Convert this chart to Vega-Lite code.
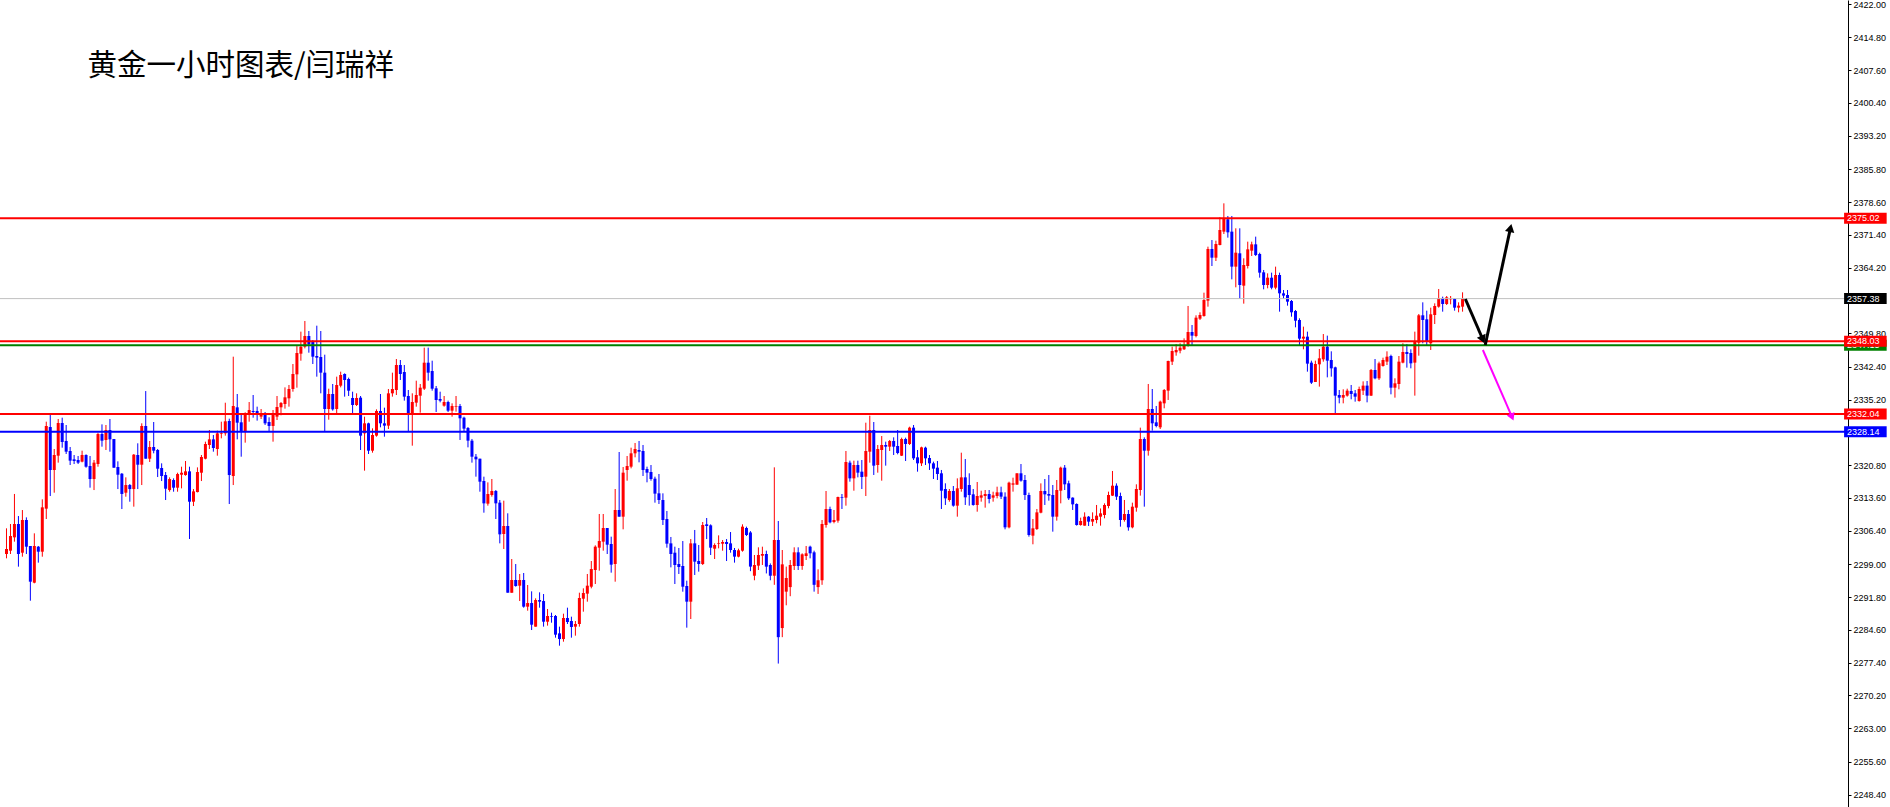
{
"$schema":"https://vega.github.io/schema/vega-lite/v6.json",
"width":1848,"height":807,
"autosize":{"type":"none"},
"padding":{"left":0,"top":0,"right":42,"bottom":0},
"background":"#ffffff",
"config":{"view":{"stroke":null}},
"datasets":{
"candles":[
{"i":0,"o":2301.27,"h":2306.91,"l":2300.32,"c":2302.37},
{"i":1,"o":2302.00,"h":2307.86,"l":2301.27,"c":2305.22},
{"i":2,"o":2304.93,"h":2314.46,"l":2303.98,"c":2307.86},
{"i":3,"o":2307.86,"h":2309.61,"l":2298.49,"c":2301.27},
{"i":4,"o":2301.56,"h":2310.93,"l":2300.68,"c":2308.74},
{"i":5,"o":2308.74,"h":2309.32,"l":2301.27,"c":2302.88},
{"i":6,"o":2303.03,"h":2303.03,"l":2291.01,"c":2295.19},
{"i":7,"o":2294.97,"h":2305.81,"l":2294.83,"c":2303.03},
{"i":8,"o":2302.88,"h":2303.03,"l":2299.37,"c":2301.78},
{"i":9,"o":2301.78,"h":2313.28,"l":2300.68,"c":2311.52},
{"i":10,"o":2311.23,"h":2330.34,"l":2308.96,"c":2329.39},
{"i":11,"o":2329.17,"h":2331.80,"l":2314.01,"c":2319.72},
{"i":12,"o":2319.72,"h":2324.34,"l":2314.74,"c":2323.02},
{"i":13,"o":2322.87,"h":2330.93,"l":2321.34,"c":2330.05},
{"i":14,"o":2330.05,"h":2331.22,"l":2324.63,"c":2325.88},
{"i":15,"o":2326.10,"h":2329.61,"l":2323.24,"c":2323.75},
{"i":16,"o":2323.90,"h":2324.78,"l":2320.82,"c":2321.78},
{"i":17,"o":2322.07,"h":2323.02,"l":2321.04,"c":2321.70},
{"i":18,"o":2321.92,"h":2322.80,"l":2321.04,"c":2321.34},
{"i":19,"o":2321.56,"h":2323.97,"l":2321.41,"c":2323.02},
{"i":20,"o":2323.02,"h":2323.17,"l":2320.23,"c":2320.45},
{"i":21,"o":2320.60,"h":2322.80,"l":2315.84,"c":2317.74},
{"i":22,"o":2317.74,"h":2321.92,"l":2315.32,"c":2321.34},
{"i":23,"o":2321.04,"h":2327.92,"l":2320.45,"c":2327.63},
{"i":24,"o":2327.63,"h":2329.75,"l":2324.85,"c":2326.17},
{"i":25,"o":2326.32,"h":2329.61,"l":2324.12,"c":2328.51},
{"i":26,"o":2328.51,"h":2330.93,"l":2323.75,"c":2326.46},
{"i":27,"o":2326.54,"h":2326.54,"l":2320.23,"c":2320.23},
{"i":28,"o":2320.38,"h":2321.63,"l":2315.54,"c":2318.69},
{"i":29,"o":2318.91,"h":2319.06,"l":2311.15,"c":2314.46},
{"i":30,"o":2314.74,"h":2318.11,"l":2313.86,"c":2316.42},
{"i":31,"o":2316.42,"h":2316.64,"l":2312.76,"c":2315.54},
{"i":32,"o":2315.54,"h":2323.24,"l":2311.67,"c":2323.09},
{"i":33,"o":2323.02,"h":2325.59,"l":2315.54,"c":2320.89},
{"i":34,"o":2320.89,"h":2329.98,"l":2316.42,"c":2329.39},
{"i":35,"o":2329.39,"h":2337.07,"l":2322.21,"c":2322.21},
{"i":36,"o":2322.21,"h":2326.10,"l":2321.48,"c":2324.78},
{"i":37,"o":2324.78,"h":2330.27,"l":2323.39,"c":2323.97},
{"i":38,"o":2324.12,"h":2324.34,"l":2318.18,"c":2320.01},
{"i":39,"o":2320.16,"h":2321.19,"l":2317.30,"c":2318.40},
{"i":40,"o":2318.62,"h":2319.28,"l":2313.13,"c":2315.62},
{"i":41,"o":2315.32,"h":2318.11,"l":2314.96,"c":2317.74},
{"i":42,"o":2317.52,"h":2317.89,"l":2314.96,"c":2315.84},
{"i":43,"o":2315.84,"h":2319.13,"l":2314.96,"c":2318.84},
{"i":44,"o":2318.69,"h":2320.45,"l":2315.69,"c":2319.13},
{"i":45,"o":2318.62,"h":2321.70,"l":2318.47,"c":2319.43},
{"i":46,"o":2319.43,"h":2320.45,"l":2304.57,"c":2312.76},
{"i":47,"o":2312.76,"h":2315.54,"l":2311.81,"c":2315.03},
{"i":48,"o":2314.88,"h":2320.30,"l":2314.81,"c":2319.28},
{"i":49,"o":2319.13,"h":2323.02,"l":2317.30,"c":2322.58},
{"i":50,"o":2322.21,"h":2325.95,"l":2322.07,"c":2325.44},
{"i":51,"o":2325.22,"h":2328.51,"l":2324.34,"c":2326.46},
{"i":52,"o":2326.46,"h":2327.41,"l":2323.75,"c":2324.56},
{"i":53,"o":2324.34,"h":2328.37,"l":2322.87,"c":2327.78},
{"i":54,"o":2327.63,"h":2330.34,"l":2326.68,"c":2327.78},
{"i":55,"o":2327.78,"h":2334.51,"l":2327.27,"c":2330.42},
{"i":56,"o":2330.49,"h":2331.00,"l":2312.25,"c":2318.62},
{"i":57,"o":2318.40,"h":2344.62,"l":2316.42,"c":2333.78},
{"i":58,"o":2333.49,"h":2336.42,"l":2326.46,"c":2330.12},
{"i":59,"o":2330.20,"h":2332.17,"l":2322.65,"c":2328.15},
{"i":60,"o":2328.15,"h":2332.39,"l":2325.73,"c":2331.95},
{"i":61,"o":2331.95,"h":2334.66,"l":2330.34,"c":2332.90},
{"i":62,"o":2332.68,"h":2336.20,"l":2331.22,"c":2332.46},
{"i":63,"o":2332.69,"h":2333.64,"l":2330.57,"c":2331.96},
{"i":64,"o":2331.45,"h":2333.13,"l":2330.93,"c":2332.18},
{"i":65,"o":2332.18,"h":2332.47,"l":2329.62,"c":2329.98},
{"i":66,"o":2330.27,"h":2331.30,"l":2328.30,"c":2329.40},
{"i":67,"o":2329.40,"h":2332.91,"l":2325.95,"c":2331.81},
{"i":68,"o":2331.45,"h":2335.98,"l":2330.71,"c":2333.57},
{"i":69,"o":2333.50,"h":2334.66,"l":2331.74,"c":2334.44},
{"i":70,"o":2334.23,"h":2337.88,"l":2333.20,"c":2335.69},
{"i":71,"o":2335.47,"h":2338.40,"l":2333.64,"c":2337.52},
{"i":72,"o":2337.52,"h":2343.01,"l":2336.93,"c":2340.82},
{"i":73,"o":2340.74,"h":2346.96,"l":2337.81,"c":2345.43},
{"i":74,"o":2345.28,"h":2350.12,"l":2343.74,"c":2346.82},
{"i":75,"o":2346.82,"h":2352.46,"l":2346.45,"c":2349.16},
{"i":76,"o":2349.16,"h":2350.26,"l":2345.50,"c":2347.33},
{"i":77,"o":2347.84,"h":2348.28,"l":2343.01,"c":2344.62},
{"i":78,"o":2344.77,"h":2351.43,"l":2340.23,"c":2344.40},
{"i":79,"o":2344.55,"h":2350.26,"l":2336.57,"c":2341.11},
{"i":80,"o":2341.11,"h":2345.06,"l":2328.15,"c":2333.13},
{"i":81,"o":2333.13,"h":2337.59,"l":2330.78,"c":2336.42},
{"i":82,"o":2336.42,"h":2338.62,"l":2332.76,"c":2333.05},
{"i":83,"o":2333.13,"h":2340.23,"l":2332.18,"c":2338.40},
{"i":84,"o":2338.25,"h":2341.33,"l":2337.88,"c":2340.60},
{"i":85,"o":2340.82,"h":2340.96,"l":2335.84,"c":2339.50},
{"i":86,"o":2339.72,"h":2340.01,"l":2335.98,"c":2337.15},
{"i":87,"o":2335.54,"h":2336.93,"l":2332.03,"c":2334.00},
{"i":88,"o":2334.00,"h":2336.57,"l":2333.78,"c":2335.54},
{"i":89,"o":2335.62,"h":2335.98,"l":2324.12,"c":2327.27},
{"i":90,"o":2327.78,"h":2331.44,"l":2319.58,"c":2329.98},
{"i":91,"o":2329.98,"h":2330.12,"l":2323.24,"c":2323.97},
{"i":92,"o":2323.97,"h":2328.88,"l":2323.53,"c":2327.41},
{"i":93,"o":2327.27,"h":2333.05,"l":2327.05,"c":2332.69},
{"i":94,"o":2332.69,"h":2336.42,"l":2329.10,"c":2329.98},
{"i":95,"o":2329.98,"h":2333.42,"l":2327.05,"c":2329.47},
{"i":96,"o":2329.47,"h":2337.52,"l":2328.73,"c":2336.57},
{"i":97,"o":2336.57,"h":2341.11,"l":2335.84,"c":2337.52},
{"i":98,"o":2337.30,"h":2344.11,"l":2336.20,"c":2342.79},
{"i":99,"o":2342.79,"h":2343.89,"l":2339.50,"c":2340.82},
{"i":100,"o":2341.25,"h":2342.79,"l":2334.96,"c":2335.84},
{"i":101,"o":2335.98,"h":2337.30,"l":2328.15,"c":2331.81},
{"i":102,"o":2331.96,"h":2336.57,"l":2325.07,"c":2334.66},
{"i":103,"o":2334.52,"h":2339.35,"l":2333.64,"c":2336.20},
{"i":104,"o":2336.05,"h":2338.62,"l":2332.32,"c":2337.81},
{"i":105,"o":2337.59,"h":2346.60,"l":2337.30,"c":2343.30},
{"i":106,"o":2343.30,"h":2346.60,"l":2339.35,"c":2341.11},
{"i":107,"o":2341.47,"h":2343.74,"l":2337.15,"c":2337.59},
{"i":108,"o":2337.67,"h":2338.18,"l":2332.47,"c":2335.10},
{"i":109,"o":2335.32,"h":2336.93,"l":2334.59,"c":2334.96},
{"i":110,"o":2333.86,"h":2335.98,"l":2333.64,"c":2334.66},
{"i":111,"o":2334.66,"h":2334.96,"l":2332.47,"c":2332.76},
{"i":112,"o":2332.76,"h":2334.37,"l":2331.44,"c":2333.78},
{"i":113,"o":2333.64,"h":2335.98,"l":2332.54,"c":2333.78},
{"i":114,"o":2333.78,"h":2334.23,"l":2326.32,"c":2331.08},
{"i":115,"o":2331.22,"h":2331.44,"l":2328.07,"c":2328.81},
{"i":116,"o":2328.95,"h":2329.17,"l":2324.70,"c":2326.17},
{"i":117,"o":2326.17,"h":2326.54,"l":2321.34,"c":2322.65},
{"i":118,"o":2322.65,"h":2323.24,"l":2318.26,"c":2322.07},
{"i":119,"o":2322.21,"h":2322.21,"l":2314.96,"c":2317.16},
{"i":120,"o":2317.31,"h":2318.26,"l":2310.35,"c":2312.40},
{"i":121,"o":2312.33,"h":2317.01,"l":2311.89,"c":2314.45},
{"i":122,"o":2314.23,"h":2317.75,"l":2313.87,"c":2315.11},
{"i":123,"o":2315.11,"h":2315.33,"l":2308.96,"c":2312.40},
{"i":124,"o":2312.55,"h":2313.14,"l":2303.61,"c":2305.59},
{"i":125,"o":2305.66,"h":2312.99,"l":2302.37,"c":2307.42},
{"i":126,"o":2307.42,"h":2310.21,"l":2292.77,"c":2292.77},
{"i":127,"o":2292.77,"h":2300.17,"l":2292.77,"c":2295.56},
{"i":128,"o":2295.56,"h":2299.07,"l":2294.09,"c":2294.24},
{"i":129,"o":2294.31,"h":2296.88,"l":2290.94,"c":2295.56},
{"i":130,"o":2295.56,"h":2297.10,"l":2289.48,"c":2289.70},
{"i":131,"o":2289.70,"h":2294.46,"l":2288.82,"c":2290.50},
{"i":132,"o":2290.50,"h":2293.07,"l":2284.57,"c":2285.74},
{"i":133,"o":2285.31,"h":2291.53,"l":2285.31,"c":2291.16},
{"i":134,"o":2291.16,"h":2292.85,"l":2289.48,"c":2290.80},
{"i":135,"o":2290.94,"h":2292.48,"l":2285.31,"c":2286.40},
{"i":136,"o":2286.40,"h":2289.19,"l":2285.53,"c":2287.65},
{"i":137,"o":2287.65,"h":2288.38,"l":2286.18,"c":2287.50},
{"i":138,"o":2287.65,"h":2287.87,"l":2282.89,"c":2283.55},
{"i":139,"o":2283.84,"h":2285.31,"l":2281.13,"c":2282.59},
{"i":140,"o":2282.59,"h":2288.16,"l":2282.01,"c":2287.21},
{"i":141,"o":2287.21,"h":2289.48,"l":2285.89,"c":2286.33},
{"i":142,"o":2286.55,"h":2287.50,"l":2282.89,"c":2285.23},
{"i":143,"o":2285.31,"h":2286.55,"l":2283.33,"c":2285.89},
{"i":144,"o":2285.89,"h":2292.77,"l":2285.31,"c":2291.60},
{"i":145,"o":2291.45,"h":2293.73,"l":2288.60,"c":2292.70},
{"i":146,"o":2292.56,"h":2296.88,"l":2290.80,"c":2294.31},
{"i":147,"o":2294.09,"h":2299.73,"l":2293.73,"c":2297.97},
{"i":148,"o":2297.76,"h":2303.17,"l":2294.68,"c":2302.88},
{"i":149,"o":2302.66,"h":2310.06,"l":2297.61,"c":2304.12},
{"i":150,"o":2303.98,"h":2310.06,"l":2302.00,"c":2306.98},
{"i":151,"o":2306.98,"h":2306.98,"l":2301.27,"c":2303.32},
{"i":152,"o":2303.47,"h":2305.08,"l":2297.17,"c":2298.93},
{"i":153,"o":2299.07,"h":2315.55,"l":2295.19,"c":2310.94},
{"i":154,"o":2310.94,"h":2323.68,"l":2309.47,"c":2309.47},
{"i":155,"o":2309.47,"h":2320.38,"l":2306.69,"c":2319.14},
{"i":156,"o":2319.73,"h":2322.80,"l":2317.38,"c":2320.60},
{"i":157,"o":2320.46,"h":2324.63,"l":2320.09,"c":2323.39},
{"i":158,"o":2323.39,"h":2325.66,"l":2322.51,"c":2324.34},
{"i":159,"o":2324.12,"h":2326.10,"l":2321.41,"c":2323.75},
{"i":160,"o":2323.90,"h":2325.22,"l":2318.41,"c":2319.73},
{"i":161,"o":2319.95,"h":2320.46,"l":2317.02,"c":2319.14},
{"i":162,"o":2319.29,"h":2320.82,"l":2317.38,"c":2317.75},
{"i":163,"o":2317.82,"h":2318.26,"l":2312.55,"c":2314.53},
{"i":164,"o":2314.60,"h":2318.85,"l":2312.26,"c":2313.13},
{"i":165,"o":2313.13,"h":2314.60,"l":2307.64,"c":2308.74},
{"i":166,"o":2308.96,"h":2310.72,"l":2302.66,"c":2303.54},
{"i":167,"o":2303.61,"h":2305.01,"l":2298.34,"c":2301.27},
{"i":168,"o":2301.56,"h":2302.88,"l":2294.68,"c":2298.85},
{"i":169,"o":2299.07,"h":2302.59,"l":2296.88,"c":2298.42},
{"i":170,"o":2298.64,"h":2304.12,"l":2292.99,"c":2294.09},
{"i":171,"o":2294.24,"h":2295.41,"l":2285.09,"c":2290.80},
{"i":172,"o":2290.80,"h":2304.56,"l":2286.99,"c":2303.61},
{"i":173,"o":2303.61,"h":2306.55,"l":2296.66,"c":2299.59},
{"i":174,"o":2299.73,"h":2303.25,"l":2297.39,"c":2299.07},
{"i":175,"o":2299.07,"h":2308.30,"l":2298.85,"c":2307.64},
{"i":176,"o":2307.79,"h":2309.18,"l":2304.56,"c":2307.42},
{"i":177,"o":2307.57,"h":2307.79,"l":2301.05,"c":2302.66},
{"i":178,"o":2302.44,"h":2303.61,"l":2300.17,"c":2303.25},
{"i":179,"o":2303.47,"h":2305.37,"l":2302.51,"c":2303.61},
{"i":180,"o":2303.54,"h":2304.34,"l":2302.00,"c":2303.91},
{"i":181,"o":2303.91,"h":2304.56,"l":2299.73,"c":2303.47},
{"i":182,"o":2303.61,"h":2306.10,"l":2301.56,"c":2302.15},
{"i":183,"o":2302.15,"h":2302.59,"l":2299.37,"c":2300.69},
{"i":184,"o":2300.69,"h":2302.44,"l":2300.54,"c":2302.08},
{"i":185,"o":2302.00,"h":2307.79,"l":2301.78,"c":2307.28},
{"i":186,"o":2306.98,"h":2307.28,"l":2305.22,"c":2305.44},
{"i":187,"o":2306.00,"h":2306.30,"l":2297.50,"c":2298.50},
{"i":188,"o":2296.50,"h":2301.05,"l":2295.50,"c":2298.86},
{"i":189,"o":2298.71,"h":2302.74,"l":2297.76,"c":2301.05},
{"i":190,"o":2300.90,"h":2302.88,"l":2298.86,"c":2301.27},
{"i":191,"o":2301.27,"h":2302.00,"l":2297.00,"c":2298.49},
{"i":192,"o":2298.86,"h":2299.20,"l":2295.50,"c":2296.50},
{"i":193,"o":2296.50,"h":2320.31,"l":2294.50,"c":2304.35},
{"i":194,"o":2304.35,"h":2308.52,"l":2277.20,"c":2283.00},
{"i":195,"o":2285.00,"h":2302.15,"l":2283.00,"c":2299.00},
{"i":196,"o":2293.00,"h":2298.50,"l":2290.00,"c":2296.00},
{"i":197,"o":2294.00,"h":2299.95,"l":2292.00,"c":2298.86},
{"i":198,"o":2298.63,"h":2302.74,"l":2297.76,"c":2301.64},
{"i":199,"o":2301.64,"h":2302.74,"l":2297.76,"c":2298.63},
{"i":200,"o":2298.63,"h":2301.42,"l":2297.80,"c":2301.20},
{"i":201,"o":2300.83,"h":2303.03,"l":2299.95,"c":2301.42},
{"i":202,"o":2302.88,"h":2303.10,"l":2300.32,"c":2301.42},
{"i":203,"o":2301.64,"h":2302.00,"l":2293.00,"c":2294.50},
{"i":204,"o":2294.00,"h":2297.90,"l":2292.50,"c":2295.50},
{"i":205,"o":2295.50,"h":2308.74,"l":2294.50,"c":2307.86},
{"i":206,"o":2307.64,"h":2315.11,"l":2307.06,"c":2311.16},
{"i":207,"o":2311.16,"h":2311.67,"l":2308.01,"c":2308.23},
{"i":208,"o":2308.30,"h":2310.94,"l":2308.01,"c":2308.74},
{"i":209,"o":2308.59,"h":2313.87,"l":2308.15,"c":2313.79},
{"i":210,"o":2313.79,"h":2314.45,"l":2311.16,"c":2313.65},
{"i":211,"o":2313.65,"h":2323.90,"l":2311.89,"c":2321.48},
{"i":212,"o":2321.34,"h":2321.78,"l":2317.16,"c":2317.89},
{"i":213,"o":2317.89,"h":2321.78,"l":2315.18,"c":2320.82},
{"i":214,"o":2320.82,"h":2321.78,"l":2318.11,"c":2319.14},
{"i":215,"o":2319.36,"h":2321.92,"l":2315.55,"c":2318.19},
{"i":216,"o":2318.26,"h":2330.12,"l":2314.01,"c":2323.90},
{"i":217,"o":2323.75,"h":2331.66,"l":2321.34,"c":2328.51},
{"i":218,"o":2328.51,"h":2330.27,"l":2318.63,"c":2320.68},
{"i":219,"o":2320.82,"h":2325.22,"l":2319.14,"c":2324.34},
{"i":220,"o":2324.12,"h":2327.19,"l":2317.38,"c":2325.22},
{"i":221,"o":2325.22,"h":2325.95,"l":2320.68,"c":2324.85},
{"i":222,"o":2324.85,"h":2326.32,"l":2323.90,"c":2326.10},
{"i":223,"o":2326.10,"h":2326.90,"l":2323.02,"c":2324.85},
{"i":224,"o":2325.00,"h":2328.51,"l":2323.17,"c":2323.46},
{"i":225,"o":2322.87,"h":2326.83,"l":2322.80,"c":2326.54},
{"i":226,"o":2326.54,"h":2326.83,"l":2321.70,"c":2325.44},
{"i":227,"o":2325.44,"h":2329.24,"l":2325.22,"c":2329.03},
{"i":228,"o":2329.03,"h":2329.61,"l":2321.92,"c":2322.29},
{"i":229,"o":2322.51,"h":2324.12,"l":2319.36,"c":2321.19},
{"i":230,"o":2321.19,"h":2324.85,"l":2320.60,"c":2324.70},
{"i":231,"o":2324.63,"h":2324.85,"l":2320.82,"c":2322.29},
{"i":232,"o":2322.36,"h":2323.02,"l":2319.73,"c":2321.19},
{"i":233,"o":2321.19,"h":2321.56,"l":2317.75,"c":2320.02},
{"i":234,"o":2320.24,"h":2321.70,"l":2317.53,"c":2318.85},
{"i":235,"o":2319.00,"h":2319.73,"l":2311.16,"c":2315.18},
{"i":236,"o":2315.55,"h":2316.80,"l":2312.04,"c":2313.50},
{"i":237,"o":2313.13,"h":2315.55,"l":2312.77,"c":2315.11},
{"i":238,"o":2315.11,"h":2316.21,"l":2311.67,"c":2311.89},
{"i":239,"o":2311.89,"h":2317.89,"l":2309.47,"c":2315.70},
{"i":240,"o":2315.55,"h":2323.53,"l":2314.96,"c":2318.11},
{"i":241,"o":2318.11,"h":2322.14,"l":2312.04,"c":2313.72},
{"i":242,"o":2316.43,"h":2319.00,"l":2311.89,"c":2314.23},
{"i":243,"o":2314.38,"h":2315.55,"l":2311.89,"c":2312.04},
{"i":244,"o":2312.04,"h":2317.09,"l":2310.57,"c":2314.01},
{"i":245,"o":2313.65,"h":2315.18,"l":2312.77,"c":2314.16},
{"i":246,"o":2314.01,"h":2315.33,"l":2311.45,"c":2314.45},
{"i":247,"o":2314.45,"h":2315.33,"l":2312.40,"c":2313.35},
{"i":248,"o":2313.65,"h":2314.96,"l":2312.77,"c":2314.16},
{"i":249,"o":2314.01,"h":2316.06,"l":2313.50,"c":2314.82},
{"i":250,"o":2314.82,"h":2316.06,"l":2313.35,"c":2313.87},
{"i":251,"o":2313.87,"h":2314.82,"l":2306.69,"c":2307.13},
{"i":252,"o":2307.13,"h":2317.16,"l":2306.91,"c":2316.94},
{"i":253,"o":2316.50,"h":2318.04,"l":2314.97,"c":2316.79},
{"i":254,"o":2316.50,"h":2319.00,"l":2316.50,"c":2319.00},
{"i":255,"o":2319.00,"h":2321.04,"l":2317.16,"c":2317.38},
{"i":256,"o":2317.53,"h":2318.63,"l":2313.14,"c":2314.23},
{"i":257,"o":2314.23,"h":2314.75,"l":2305.08,"c":2305.45},
{"i":258,"o":2305.30,"h":2308.96,"l":2303.40,"c":2306.91},
{"i":259,"o":2306.76,"h":2311.16,"l":2306.55,"c":2310.42},
{"i":260,"o":2310.35,"h":2316.79,"l":2310.21,"c":2315.11},
{"i":261,"o":2315.11,"h":2317.75,"l":2312.04,"c":2314.38},
{"i":262,"o":2314.45,"h":2318.63,"l":2312.99,"c":2314.09},
{"i":263,"o":2314.23,"h":2316.43,"l":2306.18,"c":2309.47},
{"i":264,"o":2309.47,"h":2317.53,"l":2308.60,"c":2315.33},
{"i":265,"o":2315.18,"h":2320.46,"l":2312.40,"c":2320.24},
{"i":266,"o":2320.24,"h":2320.82,"l":2315.33,"c":2316.58},
{"i":267,"o":2316.80,"h":2317.38,"l":2313.14,"c":2313.50},
{"i":268,"o":2313.65,"h":2313.72,"l":2310.94,"c":2312.18},
{"i":269,"o":2312.26,"h":2312.40,"l":2307.50,"c":2307.64},
{"i":270,"o":2307.64,"h":2309.26,"l":2307.50,"c":2308.52},
{"i":271,"o":2307.50,"h":2310.42,"l":2307.50,"c":2309.47},
{"i":272,"o":2309.47,"h":2309.62,"l":2307.42,"c":2308.38},
{"i":273,"o":2308.38,"h":2310.42,"l":2307.42,"c":2308.96},
{"i":274,"o":2308.74,"h":2312.04,"l":2308.01,"c":2309.69},
{"i":275,"o":2309.47,"h":2311.28,"l":2307.50,"c":2310.21},
{"i":276,"o":2309.84,"h":2312.40,"l":2309.11,"c":2312.04},
{"i":277,"o":2311.82,"h":2314.97,"l":2311.30,"c":2314.23},
{"i":278,"o":2314.09,"h":2319.51,"l":2314.01,"c":2316.28},
{"i":279,"o":2316.28,"h":2316.79,"l":2313.14,"c":2313.87},
{"i":280,"o":2314.01,"h":2314.75,"l":2307.28,"c":2308.74},
{"i":281,"o":2308.74,"h":2313.14,"l":2308.38,"c":2310.06},
{"i":282,"o":2310.06,"h":2310.94,"l":2306.40,"c":2307.13},
{"i":283,"o":2307.13,"h":2312.55,"l":2306.91,"c":2311.67},
{"i":284,"o":2311.45,"h":2316.58,"l":2310.57,"c":2315.55},
{"i":285,"o":2315.33,"h":2329.03,"l":2314.09,"c":2326.54},
{"i":286,"o":2326.54,"h":2326.90,"l":2311.67,"c":2323.97},
{"i":287,"o":2323.97,"h":2338.62,"l":2322.88,"c":2333.13},
{"i":288,"o":2333.13,"h":2337.52,"l":2328.37,"c":2329.98},
{"i":289,"o":2330.20,"h":2333.79,"l":2329.10,"c":2329.39},
{"i":290,"o":2329.10,"h":2334.96,"l":2328.73,"c":2334.74},
{"i":291,"o":2334.37,"h":2337.52,"l":2333.28,"c":2337.30},
{"i":292,"o":2337.16,"h":2343.75,"l":2335.11,"c":2343.67},
{"i":293,"o":2343.53,"h":2346.82,"l":2342.79,"c":2345.87},
{"i":294,"o":2345.58,"h":2347.41,"l":2344.84,"c":2346.09},
{"i":295,"o":2345.94,"h":2347.56,"l":2345.36,"c":2346.60},
{"i":296,"o":2346.24,"h":2348.65,"l":2346.09,"c":2347.04},
{"i":297,"o":2346.97,"h":2355.76,"l":2346.82,"c":2350.04},
{"i":298,"o":2350.04,"h":2351.58,"l":2347.19,"c":2349.24},
{"i":299,"o":2349.17,"h":2353.71,"l":2348.87,"c":2353.19},
{"i":300,"o":2352.97,"h":2354.37,"l":2352.68,"c":2353.78},
{"i":301,"o":2353.56,"h":2358.68,"l":2353.41,"c":2357.07},
{"i":302,"o":2356.93,"h":2368.79,"l":2355.61,"c":2368.28},
{"i":303,"o":2368.28,"h":2370.25,"l":2364.54,"c":2366.37},
{"i":304,"o":2366.37,"h":2370.11,"l":2365.64,"c":2369.38},
{"i":305,"o":2369.16,"h":2375.24,"l":2369.08,"c":2372.45},
{"i":306,"o":2372.09,"h":2378.31,"l":2371.57,"c":2374.87},
{"i":307,"o":2374.80,"h":2375.53,"l":2370.77,"c":2371.94},
{"i":308,"o":2372.09,"h":2375.53,"l":2361.61,"c":2364.40},
{"i":309,"o":2364.40,"h":2372.82,"l":2359.86,"c":2367.47},
{"i":310,"o":2367.33,"h":2372.82,"l":2357.29,"c":2360.37},
{"i":311,"o":2360.22,"h":2366.23,"l":2356.27,"c":2364.76},
{"i":312,"o":2364.54,"h":2369.89,"l":2364.00,"c":2368.20},
{"i":313,"o":2367.91,"h":2369.89,"l":2366.74,"c":2369.30},
{"i":314,"o":2369.30,"h":2370.99,"l":2366.74,"c":2366.96},
{"i":315,"o":2367.18,"h":2367.47,"l":2361.98,"c":2363.08},
{"i":316,"o":2363.15,"h":2363.67,"l":2359.42,"c":2360.37},
{"i":317,"o":2360.37,"h":2362.93,"l":2359.64,"c":2361.98},
{"i":318,"o":2361.98,"h":2363.08,"l":2359.42,"c":2359.78},
{"i":319,"o":2359.78,"h":2364.40,"l":2359.42,"c":2362.57},
{"i":320,"o":2362.57,"h":2363.08,"l":2354.51,"c":2358.54},
{"i":321,"o":2358.54,"h":2359.27,"l":2357.29,"c":2358.03},
{"i":322,"o":2358.17,"h":2359.27,"l":2355.83,"c":2356.71},
{"i":323,"o":2356.85,"h":2357.07,"l":2353.41,"c":2354.37},
{"i":324,"o":2354.66,"h":2354.88,"l":2351.07,"c":2352.53},
{"i":325,"o":2352.68,"h":2353.05,"l":2347.19,"c":2348.58},
{"i":326,"o":2348.58,"h":2351.22,"l":2346.24,"c":2349.02},
{"i":327,"o":2349.02,"h":2350.12,"l":2341.33,"c":2343.09},
{"i":328,"o":2343.31,"h":2343.75,"l":2338.62,"c":2338.91},
{"i":329,"o":2339.06,"h":2343.75,"l":2339.06,"c":2343.01},
{"i":330,"o":2342.94,"h":2346.31,"l":2338.04,"c":2344.26},
{"i":331,"o":2344.04,"h":2349.60,"l":2343.53,"c":2346.82},
{"i":332,"o":2346.82,"h":2349.24,"l":2340.08,"c":2343.75},
{"i":333,"o":2343.89,"h":2345.80,"l":2340.23,"c":2342.06},
{"i":334,"o":2342.28,"h":2342.43,"l":2332.18,"c":2336.06},
{"i":335,"o":2336.20,"h":2337.30,"l":2334.37,"c":2335.62},
{"i":336,"o":2335.62,"h":2337.45,"l":2334.37,"c":2336.20},
{"i":337,"o":2336.06,"h":2337.59,"l":2335.84,"c":2337.16},
{"i":338,"o":2337.08,"h":2338.40,"l":2335.25,"c":2336.43},
{"i":339,"o":2336.57,"h":2337.30,"l":2334.74,"c":2335.84},
{"i":340,"o":2334.88,"h":2338.04,"l":2334.74,"c":2337.52},
{"i":341,"o":2337.16,"h":2339.20,"l":2336.20,"c":2338.26},
{"i":342,"o":2338.26,"h":2339.28,"l":2334.59,"c":2336.06},
{"i":343,"o":2336.06,"h":2341.92,"l":2335.98,"c":2341.70},
{"i":344,"o":2341.70,"h":2344.11,"l":2339.65,"c":2339.86},
{"i":345,"o":2339.86,"h":2343.53,"l":2339.50,"c":2343.16},
{"i":346,"o":2342.58,"h":2344.40,"l":2342.43,"c":2343.89},
{"i":347,"o":2343.53,"h":2345.80,"l":2342.79,"c":2344.62},
{"i":348,"o":2344.77,"h":2345.06,"l":2336.35,"c":2337.81},
{"i":349,"o":2337.81,"h":2339.87,"l":2335.62,"c":2338.77},
{"i":350,"o":2338.62,"h":2344.77,"l":2337.45,"c":2343.53},
{"i":351,"o":2343.31,"h":2347.56,"l":2343.16,"c":2345.65},
{"i":352,"o":2345.65,"h":2347.41,"l":2342.21,"c":2345.21},
{"i":353,"o":2345.43,"h":2346.24,"l":2342.06,"c":2343.16},
{"i":354,"o":2343.31,"h":2350.12,"l":2336.06,"c":2347.92},
{"i":355,"o":2347.70,"h":2354.00,"l":2344.84,"c":2353.71},
{"i":356,"o":2353.71,"h":2356.56,"l":2347.56,"c":2352.68},
{"i":357,"o":2352.83,"h":2354.73,"l":2347.19,"c":2347.92},
{"i":358,"o":2347.56,"h":2355.39,"l":2346.09,"c":2353.93},
{"i":359,"o":2353.78,"h":2356.34,"l":2351.80,"c":2355.76},
{"i":360,"o":2355.61,"h":2359.49,"l":2355.39,"c":2357.51},
{"i":361,"o":2357.51,"h":2357.81,"l":2354.51,"c":2356.20},
{"i":362,"o":2356.20,"h":2357.95,"l":2355.98,"c":2357.66},
{"i":363,"o":2357.22,"h":2357.95,"l":2356.12,"c":2357.37},
{"i":364,"o":2357.29,"h":2357.44,"l":2354.73,"c":2355.39},
{"i":365,"o":2355.39,"h":2356.56,"l":2354.37,"c":2355.83},
{"i":366,"o":2355.61,"h":2358.76,"l":2354.51,"c":2357.38}
],
"levels":[
{"k":"r1","p":2375.02},
{"k":"cur","p":2357.38},
{"k":"g","p":2347.15},
{"k":"r2","p":2348.03},
{"k":"r3","p":2332.04},
{"k":"b","p":2328.14}
],
"arrows":[
{"a":"down","n":0,"i":366.7,"p":2357.29},
{"a":"down","n":1,"i":371.1,"p":2348.39},
{"a":"up","n":0,"i":371.7,"p":2347.19},
{"a":"up","n":1,"i":378.05,"p":2372.91},
{"a":"pink","n":0,"i":371.1,"p":2346.09},
{"a":"pink","n":1,"i":378.45,"p":2331.35}
]
},
"layer":[
{"data":{"name":"candles"},
 "mark":{"type":"rule","strokeWidth":1},
 "encoding":{
  "x":{"field":"i","type":"quantitative","scale":{"domain":[-0.375,461.625],"nice":false,"zero":false},"axis":null},
  "y":{"field":"l","type":"quantitative","scale":{"domain":[2245.69,2422.98],"nice":false,"zero":false},
   "axis":{"orient":"right","values":[2422.0,2414.8,2407.6,2400.4,2393.2,2385.8,2378.6,2371.4,2364.2,2349.8,2342.4,2335.2,2320.8,2313.6,2306.4,2299.0,2291.8,2284.6,2277.4,2270.2,2263.0,2255.6,2248.4],"format":".2f","title":null,"grid":false,"domainColor":"#000000","domainWidth":1,"tickColor":"#000000","tickSize":3,"tickWidth":1,"labelFont":"Liberation Sans","labelFontSize":9,"labelColor":"#000000","labelPadding":2,"labelOverlap":false,"labelFlush":false,"labelBound":false,"zindex":0}},
  "y2":{"field":"h"},
  "color":{"condition":{"test":"datum.c >= datum.o","value":"#ff0000"},"value":"#0000ff"}}},
{"data":{"name":"candles"},
 "mark":{"type":"bar","size":3},
 "encoding":{
  "x":{"field":"i","type":"quantitative","axis":null},
  "y":{"field":"o","type":"quantitative",
   "axis":{"orient":"right","values":[2422.0,2414.8,2407.6,2400.4,2393.2,2385.8,2378.6,2371.4,2364.2,2349.8,2342.4,2335.2,2320.8,2313.6,2306.4,2299.0,2291.8,2284.6,2277.4,2270.2,2263.0,2255.6,2248.4],"format":".2f","title":null,"grid":false,"domainColor":"#000000","domainWidth":1,"tickColor":"#000000","tickSize":3,"tickWidth":1,"labelFont":"Liberation Sans","labelFontSize":9,"labelColor":"#000000","labelPadding":2,"labelOverlap":false,"labelFlush":false,"labelBound":false,"zindex":0}},
  "y2":{"field":"c"},
  "color":{"condition":{"test":"datum.c >= datum.o","value":"#ff0000"},"value":"#0000ff"}}},
{"data":{"name":"levels"},
 "mark":{"type":"rule"},
 "encoding":{
  "y":{"field":"p","type":"quantitative",
   "axis":{"orient":"right","values":[2422.0,2414.8,2407.6,2400.4,2393.2,2385.8,2378.6,2371.4,2364.2,2349.8,2342.4,2335.2,2320.8,2313.6,2306.4,2299.0,2291.8,2284.6,2277.4,2270.2,2263.0,2255.6,2248.4],"format":".2f","title":null,"grid":false,"domainColor":"#000000","domainWidth":1,"tickColor":"#000000","tickSize":3,"tickWidth":1,"labelFont":"Liberation Sans","labelFontSize":9,"labelColor":"#000000","labelPadding":2,"labelOverlap":false,"labelFlush":false,"labelBound":false,"zindex":0}},
  "color":{"condition":[{"test":"datum.k === 'cur'","value":"#c0c0c0"},{"test":"datum.k === 'g'","value":"#008000"},{"test":"datum.k === 'b'","value":"#0000ff"}],"value":"#ff0000"},
  "strokeWidth":{"condition":{"test":"datum.k === 'cur'","value":1},"value":2}}},
{"data":{"name":"levels"},
 "transform":[{"filter":"datum.k === 'g'"}],
 "mark":{"type":"rule","strokeWidth":11,"strokeCap":"butt","color":"#008000"},
 "encoding":{
  "y":{"field":"p","type":"quantitative",
   "axis":{"orient":"right","values":[2422.0,2414.8,2407.6,2400.4,2393.2,2385.8,2378.6,2371.4,2364.2,2349.8,2342.4,2335.2,2320.8,2313.6,2306.4,2299.0,2291.8,2284.6,2277.4,2270.2,2263.0,2255.6,2248.4],"format":".2f","title":null,"grid":false,"domainColor":"#000000","domainWidth":1,"tickColor":"#000000","tickSize":3,"tickWidth":1,"labelFont":"Liberation Sans","labelFontSize":9,"labelColor":"#000000","labelPadding":2,"labelOverlap":false,"labelFlush":false,"labelBound":false,"zindex":0}},
  "x":{"datum":461.9,"type":"quantitative","axis":null},
  "x2":{"datum":472.6}}},
{"data":{"name":"levels"},
 "transform":[{"filter":"datum.k === 'g'"}],
 "mark":{"type":"text","align":"left","baseline":"middle","font":"Liberation Sans","fontSize":9,"color":"#ffffff"},
 "encoding":{
  "y":{"field":"p","type":"quantitative",
   "axis":{"orient":"right","values":[2422.0,2414.8,2407.6,2400.4,2393.2,2385.8,2378.6,2371.4,2364.2,2349.8,2342.4,2335.2,2320.8,2313.6,2306.4,2299.0,2291.8,2284.6,2277.4,2270.2,2263.0,2255.6,2248.4],"format":".2f","title":null,"grid":false,"domainColor":"#000000","domainWidth":1,"tickColor":"#000000","tickSize":3,"tickWidth":1,"labelFont":"Liberation Sans","labelFontSize":9,"labelColor":"#000000","labelPadding":2,"labelOverlap":false,"labelFlush":false,"labelBound":false,"zindex":0}},
  "x":{"datum":462.6,"type":"quantitative","axis":null},
  "text":{"field":"p","type":"quantitative","format":".2f"}}},
{"data":{"name":"levels"},
 "transform":[{"filter":"datum.k !== 'g'"}],
 "mark":{"type":"rule","strokeWidth":11,"strokeCap":"butt"},
 "encoding":{
  "y":{"field":"p","type":"quantitative",
   "axis":{"orient":"right","values":[2422.0,2414.8,2407.6,2400.4,2393.2,2385.8,2378.6,2371.4,2364.2,2349.8,2342.4,2335.2,2320.8,2313.6,2306.4,2299.0,2291.8,2284.6,2277.4,2270.2,2263.0,2255.6,2248.4],"format":".2f","title":null,"grid":false,"domainColor":"#000000","domainWidth":1,"tickColor":"#000000","tickSize":3,"tickWidth":1,"labelFont":"Liberation Sans","labelFontSize":9,"labelColor":"#000000","labelPadding":2,"labelOverlap":false,"labelFlush":false,"labelBound":false,"zindex":0}},
  "x":{"datum":461.9,"type":"quantitative","axis":null},
  "x2":{"datum":472.6},
  "color":{"condition":[{"test":"datum.k === 'cur'","value":"#000000"},{"test":"datum.k === 'b'","value":"#0000ff"}],"value":"#ff0000"}}},
{"data":{"name":"levels"},
 "transform":[{"filter":"datum.k !== 'g'"}],
 "mark":{"type":"text","align":"left","baseline":"middle","font":"Liberation Sans","fontSize":9,"color":"#ffffff"},
 "encoding":{
  "y":{"field":"p","type":"quantitative",
   "axis":{"orient":"right","values":[2422.0,2414.8,2407.6,2400.4,2393.2,2385.8,2378.6,2371.4,2364.2,2349.8,2342.4,2335.2,2320.8,2313.6,2306.4,2299.0,2291.8,2284.6,2277.4,2270.2,2263.0,2255.6,2248.4],"format":".2f","title":null,"grid":false,"domainColor":"#000000","domainWidth":1,"tickColor":"#000000","tickSize":3,"tickWidth":1,"labelFont":"Liberation Sans","labelFontSize":9,"labelColor":"#000000","labelPadding":2,"labelOverlap":false,"labelFlush":false,"labelBound":false,"zindex":0}},
  "x":{"datum":462.6,"type":"quantitative","axis":null},
  "text":{"field":"p","type":"quantitative","format":".2f"}}},
{"data":{"name":"arrows"},
 "transform":[{"filter":"datum.a !== 'pink'"}],
 "mark":{"type":"line","color":"#000000","strokeWidth":3},
 "encoding":{
  "x":{"field":"i","type":"quantitative","axis":null},
  "y":{"field":"p","type":"quantitative",
   "axis":{"orient":"right","values":[2422.0,2414.8,2407.6,2400.4,2393.2,2385.8,2378.6,2371.4,2364.2,2349.8,2342.4,2335.2,2320.8,2313.6,2306.4,2299.0,2291.8,2284.6,2277.4,2270.2,2263.0,2255.6,2248.4],"format":".2f","title":null,"grid":false,"domainColor":"#000000","domainWidth":1,"tickColor":"#000000","tickSize":3,"tickWidth":1,"labelFont":"Liberation Sans","labelFontSize":9,"labelColor":"#000000","labelPadding":2,"labelOverlap":false,"labelFlush":false,"labelBound":false,"zindex":0}},
  "detail":{"field":"a","type":"nominal"},
  "order":{"field":"n","type":"quantitative"}}},
{"data":{"name":"arrows"},
 "transform":[{"filter":"datum.a === 'pink'"}],
 "mark":{"type":"line","color":"#ff00ff","strokeWidth":2},
 "encoding":{
  "x":{"field":"i","type":"quantitative","axis":null},
  "y":{"field":"p","type":"quantitative",
   "axis":{"orient":"right","values":[2422.0,2414.8,2407.6,2400.4,2393.2,2385.8,2378.6,2371.4,2364.2,2349.8,2342.4,2335.2,2320.8,2313.6,2306.4,2299.0,2291.8,2284.6,2277.4,2270.2,2263.0,2255.6,2248.4],"format":".2f","title":null,"grid":false,"domainColor":"#000000","domainWidth":1,"tickColor":"#000000","tickSize":3,"tickWidth":1,"labelFont":"Liberation Sans","labelFontSize":9,"labelColor":"#000000","labelPadding":2,"labelOverlap":false,"labelFlush":false,"labelBound":false,"zindex":0}},
  "order":{"field":"n","type":"quantitative"}}},
{"data":{"name":"arrows"},
 "transform":[{"filter":"datum.a === 'up' && datum.n === 1"}],
 "mark":{"type":"point","shape":"triangle-up","filled":true,"size":90,"angle":12.4,"color":"#000000","opacity":1},
 "encoding":{
  "x":{"field":"i","type":"quantitative","axis":null},
  "y":{"field":"p","type":"quantitative",
   "axis":{"orient":"right","values":[2422.0,2414.8,2407.6,2400.4,2393.2,2385.8,2378.6,2371.4,2364.2,2349.8,2342.4,2335.2,2320.8,2313.6,2306.4,2299.0,2291.8,2284.6,2277.4,2270.2,2263.0,2255.6,2248.4],"format":".2f","title":null,"grid":false,"domainColor":"#000000","domainWidth":1,"tickColor":"#000000","tickSize":3,"tickWidth":1,"labelFont":"Liberation Sans","labelFontSize":9,"labelColor":"#000000","labelPadding":2,"labelOverlap":false,"labelFlush":false,"labelBound":false,"zindex":0}}}},
{"data":{"name":"arrows"},
 "transform":[{"filter":"datum.a === 'down' && datum.n === 1"}],
 "mark":{"type":"point","shape":"triangle-up","filled":true,"size":90,"angle":156.5,"color":"#000000","opacity":1},
 "encoding":{
  "x":{"field":"i","type":"quantitative","axis":null},
  "y":{"field":"p","type":"quantitative",
   "axis":{"orient":"right","values":[2422.0,2414.8,2407.6,2400.4,2393.2,2385.8,2378.6,2371.4,2364.2,2349.8,2342.4,2335.2,2320.8,2313.6,2306.4,2299.0,2291.8,2284.6,2277.4,2270.2,2263.0,2255.6,2248.4],"format":".2f","title":null,"grid":false,"domainColor":"#000000","domainWidth":1,"tickColor":"#000000","tickSize":3,"tickWidth":1,"labelFont":"Liberation Sans","labelFontSize":9,"labelColor":"#000000","labelPadding":2,"labelOverlap":false,"labelFlush":false,"labelBound":false,"zindex":0}}}},
{"data":{"name":"arrows"},
 "transform":[{"filter":"datum.a === 'pink' && datum.n === 1"}],
 "mark":{"type":"point","shape":"triangle-up","filled":true,"size":70,"angle":156.7,"color":"#ff00ff","opacity":1},
 "encoding":{
  "x":{"field":"i","type":"quantitative","axis":null},
  "y":{"field":"p","type":"quantitative",
   "axis":{"orient":"right","values":[2422.0,2414.8,2407.6,2400.4,2393.2,2385.8,2378.6,2371.4,2364.2,2349.8,2342.4,2335.2,2320.8,2313.6,2306.4,2299.0,2291.8,2284.6,2277.4,2270.2,2263.0,2255.6,2248.4],"format":".2f","title":null,"grid":false,"domainColor":"#000000","domainWidth":1,"tickColor":"#000000","tickSize":3,"tickWidth":1,"labelFont":"Liberation Sans","labelFontSize":9,"labelColor":"#000000","labelPadding":2,"labelOverlap":false,"labelFlush":false,"labelBound":false,"zindex":0}}}},
{"data":{"values":[{"t":"黄金一小时图表/闫瑞祥","i":20.375,"p":2406.5}]},
 "mark":{"type":"text","align":"left","baseline":"alphabetic","font":"Noto Sans CJK SC","fontSize":29.5,"color":"#000000"},
 "encoding":{
  "x":{"field":"i","type":"quantitative","axis":null},
  "y":{"field":"p","type":"quantitative",
   "axis":{"orient":"right","values":[2422.0,2414.8,2407.6,2400.4,2393.2,2385.8,2378.6,2371.4,2364.2,2349.8,2342.4,2335.2,2320.8,2313.6,2306.4,2299.0,2291.8,2284.6,2277.4,2270.2,2263.0,2255.6,2248.4],"format":".2f","title":null,"grid":false,"domainColor":"#000000","domainWidth":1,"tickColor":"#000000","tickSize":3,"tickWidth":1,"labelFont":"Liberation Sans","labelFontSize":9,"labelColor":"#000000","labelPadding":2,"labelOverlap":false,"labelFlush":false,"labelBound":false,"zindex":0}},
  "text":{"field":"t"}}}
]
}
